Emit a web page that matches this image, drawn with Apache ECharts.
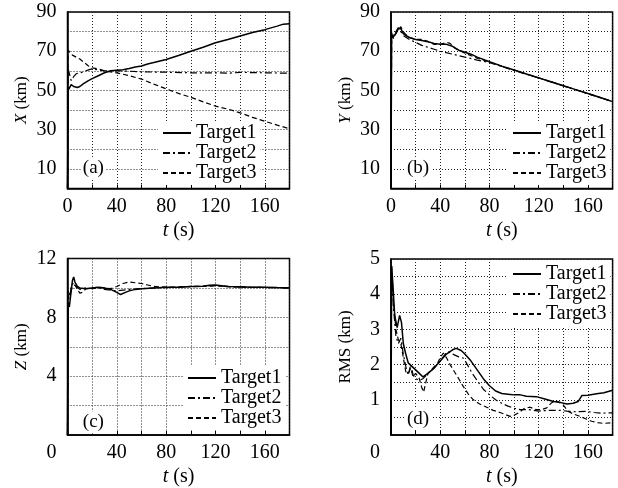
<!DOCTYPE html>
<html>
<head>
<meta charset="utf-8">
<script src="https://cdn.jsdelivr.net/npm/echarts@6/dist/echarts.min.js"></script>
<style>html,body{margin:0;padding:0;background:#fff}#c{width:618px;height:488px}</style>
</head>
<body>
<div id="c"></div>
<script>
// ---------- data ----------
const seriesNames = ['Target1', 'Target2', 'Target3'];
const xTickLabels = [0, 40, 80, 120, 160];

// (a) X (km)
const aT1 = [0,0.5,2,3,5,8,10,13,17,20,25,30,35,40,45,50,55,60,65,70,75,80,90,100,110,120,130,140,150,160,170,175,180];
const aV1 = [0,50,51,53,52,51.5,52,53.5,55,56,57.5,59,60,60.3,60.6,61.2,62,62.5,63.5,64.2,65,65.8,67.8,70,72,74.3,76,77.8,79.5,81,82.8,83.8,84];
const aT2 = [0,0.5,1.5,3,5,7,10,13,17,20,25,30,40,50,60,80,100,120,130,140,160,180];
const aV2 = [0,61,60,55,57,58.5,59,59.5,60.5,61,60.5,60,60,59.8,59.5,59.3,59,59,58.8,59.2,59,58.8];
const aT3 = [0,0.5,2,4,7,10,13,17,20,25,30,35,40,50,60,70,80,90,100,110,120,130,140,150,160,170,180];
const aV3 = [0,70.5,70,68,67,66,64.5,62.5,61.5,61,60,59.5,59,57.5,55.8,53.2,50.8,48.5,46.5,44.2,42,40.5,38.6,36.3,34.3,32.3,30.5];

// (b) Y (km)
const bT1 = [0,0.5,1.5,2.5,4,6,7,8,10,12,15,20,25,30,35,40,45,50,55,60,65,70,80,90,100,110,120,130,140,150,160,170,180];
const bV1 = [0,79,77,76,79,81.5,82,81.5,79,78,77,76,75.5,74.8,74,73.5,73.5,72.5,70.5,69.5,68.5,67,64.6,62.4,60.4,58.4,56.4,54.4,52.4,50.4,48.4,46.4,44.3];
const bT2 = [0,0.5,2,4,6,8,10,15,20,25,30,35,40,50,60,70,80,90,100,120,140,160,180];
const bV2 = [0,80,78,80,82,80,78,76,74.5,73,72,71,70,68.5,67,65.5,64.2,62.2,60.2,56.3,52.3,48.3,44.3];
const bT3 = [0,0.5,2,4,6,8,10,12,15,20,25,30,35,40,45,48,52,60,70,80,90,100,120,140,160,180];
const bV3 = [0,78,76.5,79.5,81,82.5,80,78.5,77,76,76,75,73.5,73.5,74.5,74,71.5,69,66.5,64.4,62.3,60.4,56.4,52.4,48.4,44.3];

// (c) Z (km)
const cT1 = [0,0.5,1.5,3,4,5,6,8,10,15,20,25,30,35,40,43,47,50,55,60,70,80,90,100,110,115,120,125,130,140,150,160,170,180];
const cV1 = [0,9,8.7,9.8,10.5,10.75,10.4,10.1,10,9.95,10,10.05,10,9.9,9.7,9.55,9.7,9.8,9.9,9.95,10,10.05,10.05,10.1,10.12,10.18,10.2,10.15,10.1,10.08,10.05,10.05,10.02,10];
const cT2 = [0,0.5,2,3,5,7,10,15,20,25,30,35,40,45,50,60,70,80,90,100,120,130,140,160,180];
const cV2 = [0,9.5,9.2,10.2,10.3,10.1,9.9,10,9.95,10,9.9,9.85,9.8,9.85,9.9,9.95,10,10.02,10.05,10.08,10.15,10.1,10.05,10.03,10];
const cT3 = [0,0.5,2,4,6,8,10,12,15,20,25,30,35,40,45,50,55,60,65,70,80,90,100,110,120,130,140,160,180];
const cV3 = [0,9.8,9.5,10.1,10.2,9.9,9.65,9.7,9.95,10,10.05,10,9.95,10.1,10.3,10.4,10.35,10.3,10.2,10.1,10.05,10.05,10.1,10.1,10.15,10.08,10.05,10.03,10];

// (d) RMS (km)
const dT1 = [0,0.5,1.5,3,5,7,8.5,10,12,14,17,20,23,26,30,35,40,45,50,53,57,60,65,70,75,80,85,90,95,100,105,110,118,125,132,138,143,148,152,155,160,167,173,180];
const dV1 = [0,4.8,4.3,3.4,3.05,3.4,3.2,2.6,2.3,2.05,1.95,1.85,1.75,1.65,1.75,1.9,2.1,2.3,2.42,2.46,2.4,2.3,2.1,1.85,1.6,1.4,1.25,1.18,1.16,1.14,1.14,1.1,1.09,1.02,0.95,0.92,0.88,0.9,0.95,1.12,1.13,1.17,1.2,1.27];
const dT2 = [0,0.5,2,4,6,8,10,12,14,16,18,20,23,26,30,35,40,44,46.5,50,55,59,62,66,70,75,80,85,90,95,100,105,112,120,128,137,143,150,159,165,170,180];
const dV2 = [0,4.7,3.6,2.8,2.6,2.75,2.3,1.95,1.7,2.0,1.7,1.6,1.55,1.6,1.75,1.9,2.1,2.3,2.37,2.3,2.22,2.18,2.0,1.75,1.55,1.3,1.14,1.0,0.9,0.82,0.76,0.72,0.72,0.68,0.7,0.7,0.68,0.66,0.67,0.64,0.62,0.63];
const dT3 = [0,0.5,2,4,6,8,10,12,14,16,18,20,23,25,26.5,28,30,34,38,40,42.5,45,48,50.6,55,58.7,63,66.9,72,77.7,83,88.5,93,96.7,100,104.5,108,113,118,122,126.5,130,133.3,137,140,144,148,153.5,158,163,168,172.5,180];
const dV3 = [0,4.8,3.8,3.0,2.7,2.6,2.2,1.8,1.75,1.9,1.65,1.75,1.6,1.35,1.22,1.45,1.75,1.9,2.05,2.2,2.33,2.2,2.0,1.85,1.6,1.38,1.15,1.0,0.88,0.79,0.7,0.64,0.58,0.53,0.56,0.65,0.75,0.79,0.72,0.72,0.77,0.9,0.98,0.92,0.85,0.67,0.6,0.53,0.46,0.39,0.35,0.33,0.35];

const panelTags = ['(a)', '(b)', '(c)', '(d)'];
const yNames = ['X', 'Y', 'Z', 'RMS'];

// ---------- chart ----------
const FONT = 'Liberation Serif';
const zip = (t, v) => t.map((x, i) => [x, v[i]]);

const panels = [
  { t: [aT1, aT2, aT3], v: [aV1, aV2, aV3], ymax: 90, yint: 10, ylab: v => (v % 20 === 10 ? String(v) : ''), tag: [21, 10.5], shiftZero: false, nameItalic: true },
  { t: [bT1, bT2, bT3], v: [bV1, bV2, bV3], ymax: 90, yint: 10, ylab: v => (v % 20 === 10 ? String(v) : ''), tag: [22, 10.5], shiftZero: false, nameItalic: true },
  { t: [cT1, cT2, cT3], v: [cV1, cV2, cV3], ymax: 12, yint: 2, ylab: v => (v > 0 && v % 4 === 0 ? String(v) : ''), tag: [21, 0.85], shiftZero: true, nameItalic: true },
  { t: [dT1, dT2, dT3], v: [dV1, dV2, dV3], ymax: 5, yint: 0.5, ylab: v => (v > 0 && Number.isInteger(v) ? String(v) : ''), tag: [22, 0.46], shiftZero: true, nameItalic: false }
];

const grids = [
  { left: 67.5, top: 12, width: 222, height: 176.5 },
  { left: 391, top: 12, width: 221.6, height: 176.5 },
  { left: 67.5, top: 258.5, width: 222, height: 177 },
  { left: 391, top: 259, width: 221.6, height: 176.3 }
];
const legendPos = [
  { left: 158, top: 121 },
  { left: 508, top: 121 },
  { left: 183, top: 366 },
  { left: 508, top: 262 }
];

const lineTypes = ['solid', [7, 3, 2, 3], [5, 3]];
const lineWidths = [1.5, 1.2, 1.2];

const option = {
  animation: false,
  backgroundColor: '#fff',
  grid: grids.map(g => Object.assign({ show: true, borderColor: '#000', borderWidth: 1.5, backgroundColor: 'transparent' }, g)),
  xAxis: panels.map((p, i) => ({
    type: 'value', gridIndex: i, min: 0, max: 180, interval: 20,
    name: '{i|t} (s)', nameLocation: 'middle', nameGap: 32,
    nameTextStyle: { fontFamily: FONT, fontSize: 20, color: '#000', rich: { i: { fontStyle: 'italic', fontFamily: FONT, fontSize: 20, color: '#000' } } },
    axisLine: { show: true, lineStyle: { color: '#000', width: 1.5 } },
    axisTick: { show: true, inside: true, length: 4, lineStyle: { color: '#000' } },
    splitLine: { show: true, lineStyle: { color: '#222', width: 1, type: [1, 2] } },
    axisLabel: {
      fontFamily: FONT, fontSize: 20, color: '#000', margin: 8, showMinLabel: true,
      formatter: v => {
        if (!xTickLabels.includes(v)) return '';
        if (v === 0 && p.shiftZero) return '{z|0}';
        return String(v);
      },
      rich: { z: { fontFamily: FONT, fontSize: 20, color: '#000', padding: [0, 32, 0, 0] } }
    }
  })),
  yAxis: panels.map((p, i) => ({
    type: 'value', gridIndex: i, min: 0, max: p.ymax, interval: p.yint,
    name: p.nameItalic ? '{i|' + yNames[i] + '} (km)' : yNames[i] + ' (km)',
    nameLocation: 'middle', nameGap: 37,
    nameTextStyle: { fontFamily: FONT, fontSize: 17, color: '#000', rich: { i: { fontStyle: 'italic', fontFamily: FONT, fontSize: 17, color: '#000' } } },
    axisLine: { show: true, lineStyle: { color: '#000', width: 1.5 } },
    axisTick: { show: false },
    splitLine: { show: true, lineStyle: { color: '#222', width: 1, type: [1, 2] } },
    axisLabel: { fontFamily: FONT, fontSize: 20, color: '#000', margin: 11, formatter: p.ylab }
  })),
  legend: legendPos.map(lp => ({
    orient: 'vertical', left: lp.left, top: lp.top,
    itemWidth: 28, itemHeight: 12, itemGap: 0, itemTextGap: 10,
    padding: [2, 4, 2, 4], backgroundColor: '#fff',
    itemStyle: { opacity: 0, borderWidth: 0 },
    textStyle: { fontFamily: FONT, fontSize: 20, color: '#000', lineHeight: 19 },
    data: seriesNames
  })),
  series: []
};

panels.forEach((p, gi) => {
  seriesNames.forEach((nm, si) => {
    const s = {
      type: 'line', name: nm, xAxisIndex: gi, yAxisIndex: gi,
      data: zip(p.t[si], p.v[si]), symbol: 'none', showSymbol: false,
      lineStyle: { color: '#000', width: lineWidths[si], type: lineTypes[si] },
      itemStyle: { color: '#000' }, z: 3 - si
    };
    if (si === 0) {
      s.markPoint = {
        symbol: 'rect', symbolSize: 1, silent: true,
        itemStyle: { color: 'rgba(0,0,0,0)' },
        label: { show: true, position: 'inside', formatter: panelTags[gi], fontFamily: FONT, fontSize: 19, color: '#000', backgroundColor: '#fff', padding: [2, 2, 1, 2] },
        data: [{ coord: p.tag }]
      };
    }
    option.series.push(s);
  });
});

const chart = echarts.init(document.getElementById('c'), null, { renderer: 'canvas' });
chart.setOption(option);
</script>
</body>
</html>
